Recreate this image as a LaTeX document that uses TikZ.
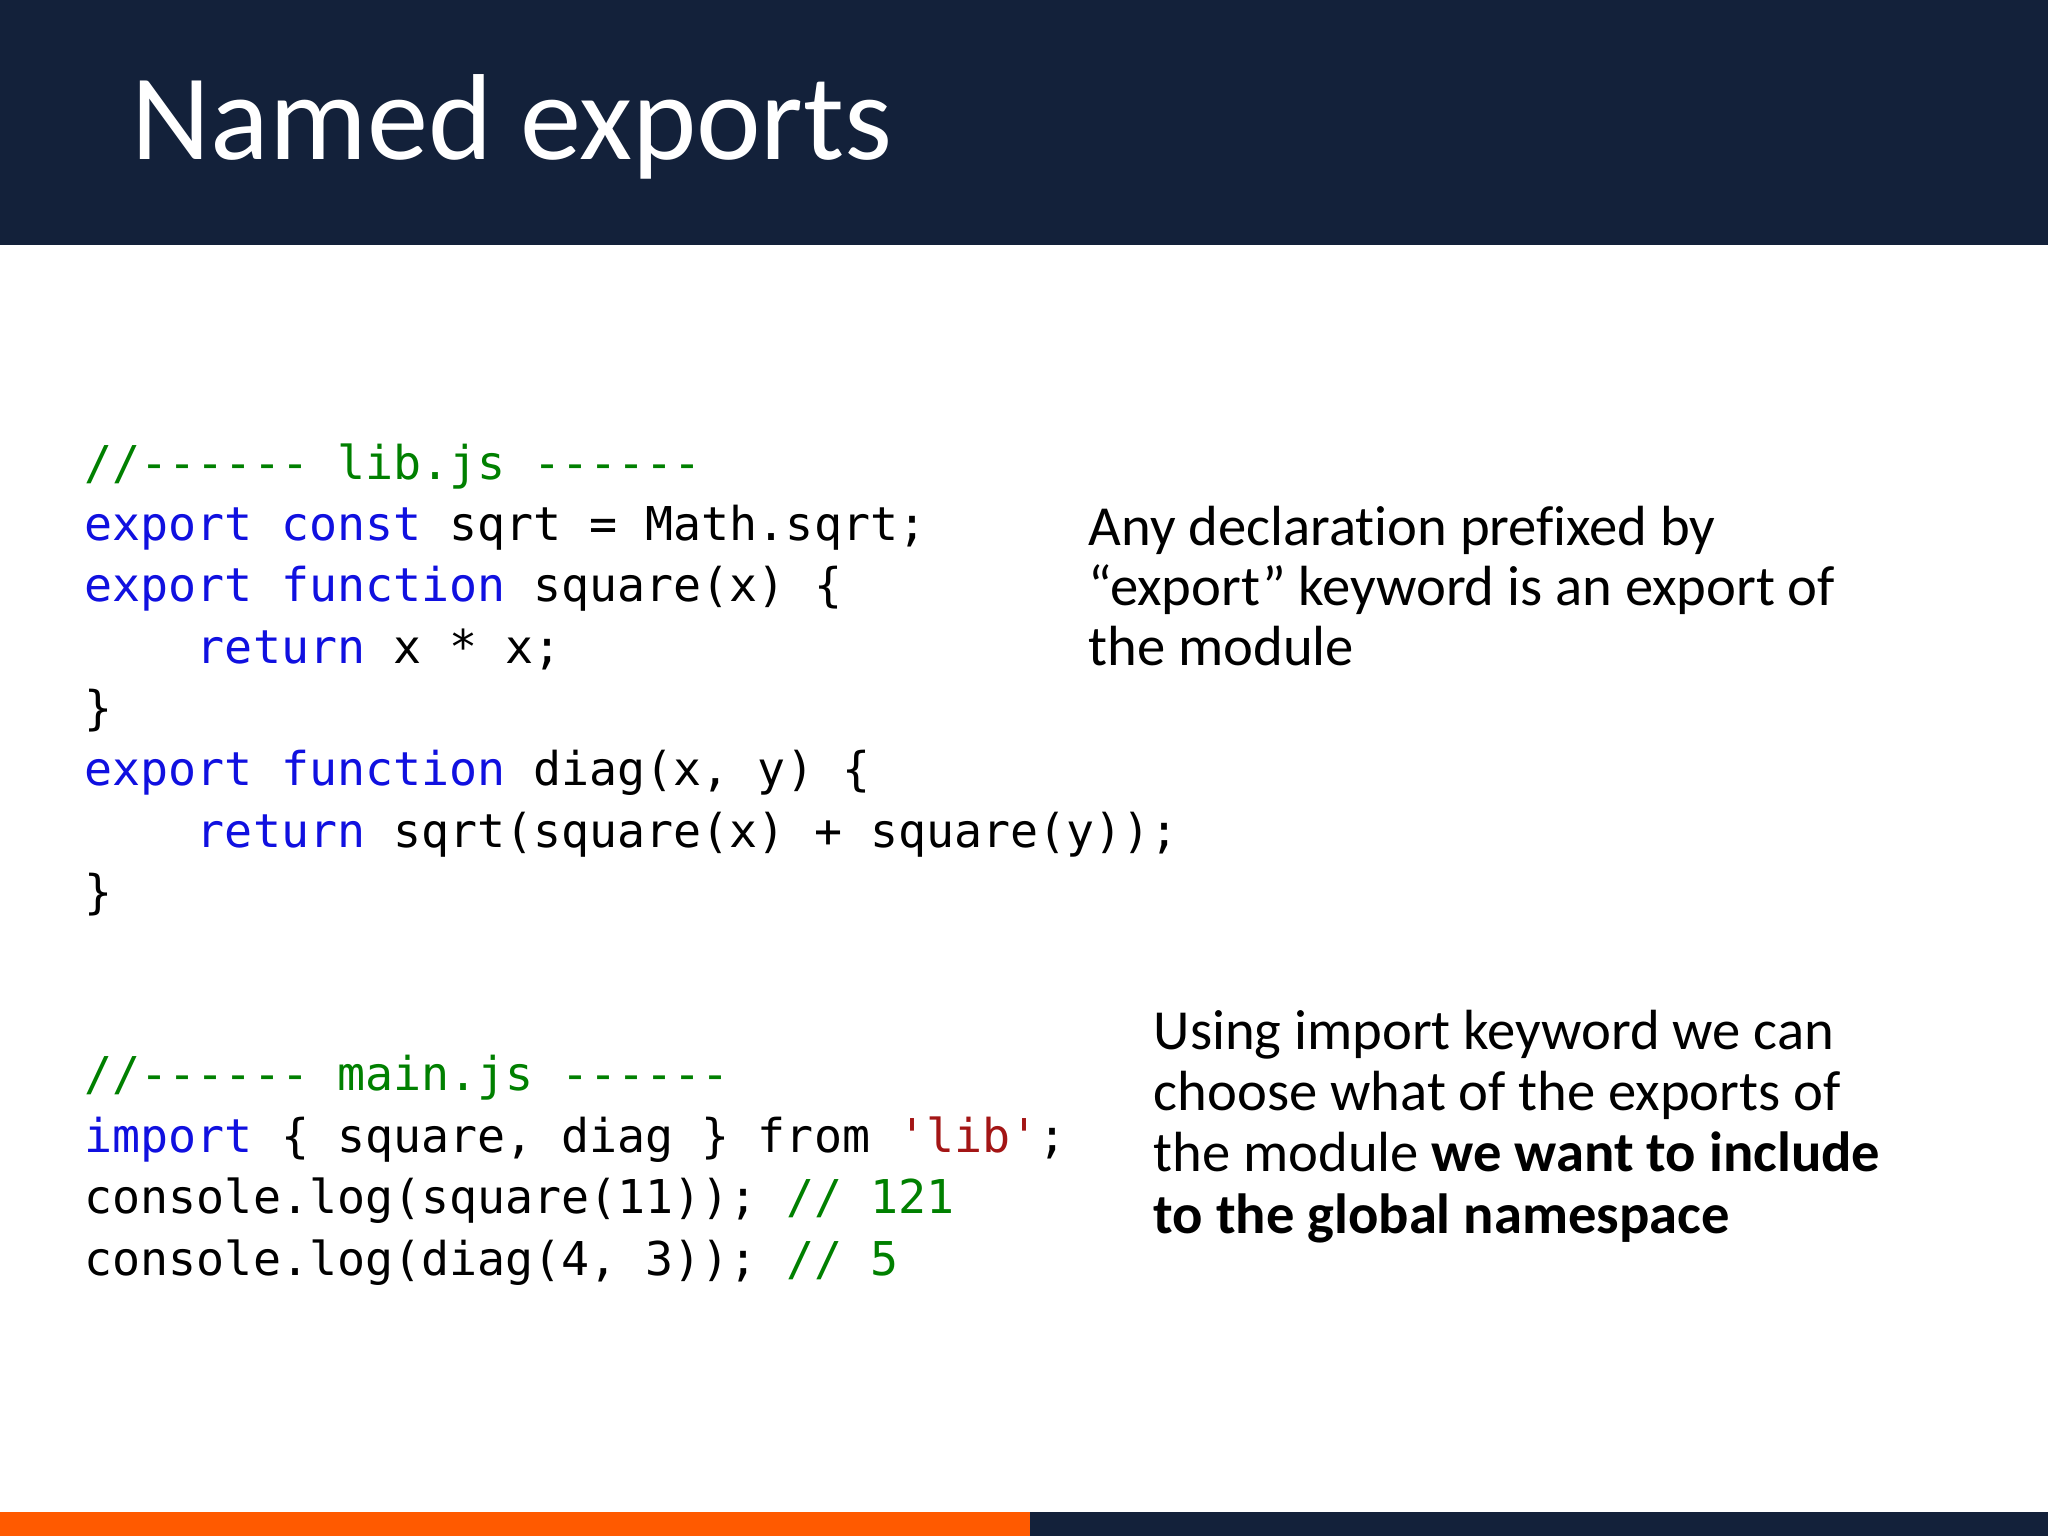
\documentclass[tikz,border=0pt]{standalone}
\usepackage{fontspec}
\setmainfont[Ligatures={NoCommon}]{Carlito}
\setmonofont{DejaVu Sans Mono}
\definecolor{navy}{HTML}{13213A}
\definecolor{orng}{HTML}{FF5A00}
\definecolor{kw}{HTML}{1010E0}
\definecolor{cm}{HTML}{008000}
\definecolor{st}{HTML}{A31515}
\newcommand{\K}[1]{\textcolor{kw}{#1}}
\newcommand{\C}[1]{\textcolor{cm}{#1}}
\newcommand{\ind}{\phantom{xxxx}}
\tikzset{code/.style={anchor=base west,inner sep=0pt,font=\fontsize{13.25pt}{15pt}\ttfamily},
body/.style={anchor=base west,inner sep=0pt,font=\fontsize{16.1pt}{19pt}\selectfont}}
\begin{document}
\begin{tikzpicture}[x=0.01cm,y=-0.01cm]
\useasboundingbox (0,0) rectangle (2048,1536);
\fill[white] (0,0) rectangle (2048,1536);
\fill[navy] (0,0) rectangle (2048,245);
\fill[orng] (0,1512) rectangle (1030,1536);
\fill[navy] (1030,1512) rectangle (2048,1536);
\node[anchor=base west,inner sep=0pt,text=white,font=\fontsize{34.8pt}{40pt}\selectfont] (title) at (131,159) {Named exports};
\node[code] (c1) at (84,479) {\C{//------ lib.js ------}};
\node[code] (c2) at (84,540) {\K{export const} sqrt = Math.sqrt;};
\node[code] (c3) at (84,601) {\K{export function} square(x) \{};
\node[code] (c4) at (84,663) {\ind\K{return} x * x;};
\node[code] (c5) at (84,724) {\}};
\node[code] (c6) at (84,785) {\K{export function} diag(x, y) \{};
\node[code] (c7) at (84,847) {\ind\K{return} sqrt(square(x) + square(y));};
\node[code] (c8) at (84,908) {\}};
\node[code] (d1) at (84,1090) {\C{//------ main.js ------}};
\node[code] (d2) at (84,1152) {\K{import} \{ square, diag \} from \textcolor{st}{'lib'};};
\node[code] (d3) at (84,1213) {console.log(square(11)); \C{// 121}};
\node[code] (d4) at (84,1275) {console.log(diag(4, 3)); \C{// 5}};
\node[body] (t1) at (1088,545) {Any declaration prefixed by};
\node[body] (t2) at (1088,605) {“export” keyword is an export of};
\node[body] (t3) at (1088,665) {the module};
\node[body] (u1) at (1153,1049) {Using import keyword we can};
\node[body] (u2) at (1153,1110) {choose what of the exports of};
\node[body] (u3) at (1153,1171) {the module \textbf{we want to include}};
\node[body] (u4) at (1153,1233) {\textbf{to the global namespace}};
\end{tikzpicture}
\end{document}
